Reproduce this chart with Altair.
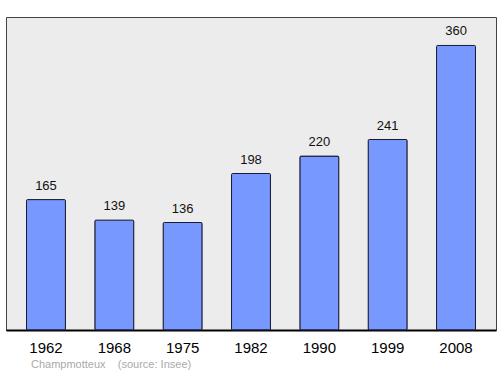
import altair as alt
import pandas as pd

years = ["1962", "1968", "1975", "1982", "1990", "1999", "2008"]
population = [165, 139, 136, 198, 220, 241, 360]
source_text = ["Champmotteux\u00a0\u00a0\u00a0\u00a0(source: Insee)"]

df = pd.DataFrame({"year": years, "pop": population})

x = alt.X("year:N", sort=years,
          scale=alt.Scale(paddingInner=0.43, paddingOuter=0.3),
          axis=alt.Axis(title=None, labelAngle=0, labelFontSize=15, labelColor="#000",
                        labelFont="Liberation Sans", ticks=False, labelPadding=10,
                        domainColor="#000", domainWidth=2))
y = alt.Y("pop:Q", scale=alt.Scale(domain=[0, 396], nice=False), axis=None)

bars = alt.Chart(df).mark_bar(color="#7799ff", stroke="#1a1a33", strokeWidth=1,
                              cornerRadius=1).encode(x=x, y=y)
labels = alt.Chart(df).mark_text(dy=-14, fontSize=13, font="Liberation Sans",
                                 color="#111").encode(x=x, y=y, text="pop:Q")
src = alt.Chart(pd.DataFrame({"t": source_text})).mark_text(
    align="left", baseline="middle", fontSize=11, font="Liberation Sans", color="#aaaaaa"
).encode(x=alt.value(25), y=alt.value(348), text="t:N")

chart = alt.layer(bars, labels, src).properties(
    width=490, height=313,
    padding={"left": 6, "top": 17, "right": 4, "bottom": 44},
    autosize=alt.AutoSizeParams(type="none"),
    background="white",
).configure_view(fill="#ececec", stroke="#444444", strokeWidth=1)

chart.save("out.html", embed_options={"renderer": "svg", "actions": False})
